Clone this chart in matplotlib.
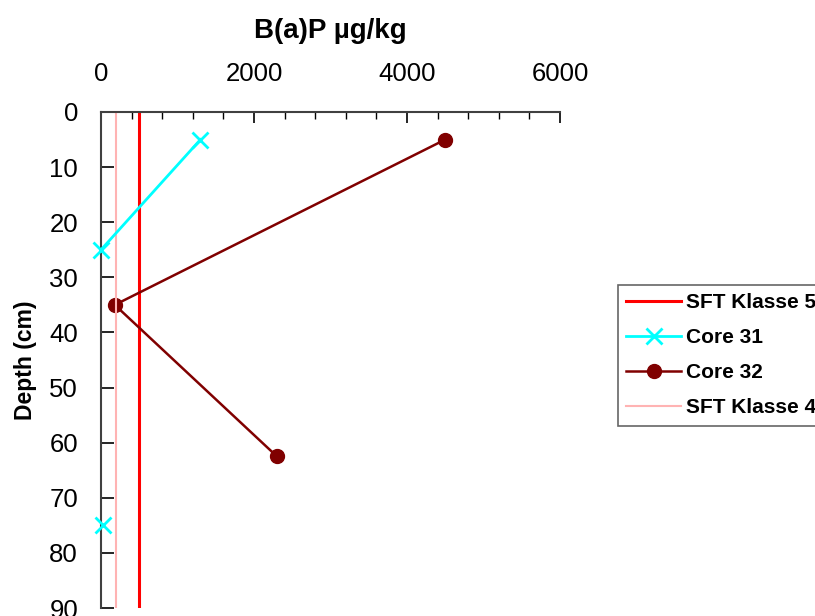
import matplotlib.pyplot as plt
import numpy as np

plt.rcParams['font.family'] = ['Liberation Sans', 'DejaVu Sans']

# B(a)P concentration (ug/kg) versus depth (cm)
core31_bap = [1300, 0, np.nan, 20]
core31_depth = [5, 25, 50, 75]
core32_bap = [4500, 180, 2300]
core32_depth = [5, 35, 62.5]

sft_klasse5 = 500
sft_klasse4 = 200
depth_range = [0, 90]

xticks = [0, 2000, 4000, 6000]
yticks = list(range(0, 100, 10))

fig = plt.figure(figsize=(8.15, 6.16), dpi=100)
ax = fig.add_axes([101/815, 1-608/616, (560-101)/815, (608-112)/616])

l5, = ax.plot([sft_klasse5, sft_klasse5], depth_range, color='#ff0000', lw=2.2, label='SFT Klasse 5')
c31, = ax.plot(core31_bap, core31_depth, color='#00ffff', lw=2, marker='x', ms=11, mew=2,
               clip_on=False, zorder=4, label='Core 31')
c32, = ax.plot(core32_bap, core32_depth, color='#800000', lw=1.8, marker='o', ms=10, label='Core 32')
l4, = ax.plot([sft_klasse4, sft_klasse4], depth_range, color='#ffb3b3', lw=1.5, label='SFT Klasse 4')

ax.set_xlim(0, 6000)
ax.set_ylim(90, 0)
ax.xaxis.tick_top()
ax.xaxis.set_label_position('top')
ax.set_xticks(xticks)
ax.set_xticks(np.arange(0, 6001, 400), minor=True)
ax.set_yticks(yticks)
ax.tick_params(axis='x', which='major', direction='in', length=8, width=1.2, labelsize=18.5, pad=19)
ax.tick_params(axis='x', which='minor', direction='in', length=5, width=1)
ax.tick_params(axis='y', direction='in', length=9, width=1.2, labelsize=18.5, pad=16.5)

for s in ['right', 'bottom']:
    ax.spines[s].set_visible(False)
for s in ['left', 'top']:
    ax.spines[s].set_color('#404040')
    ax.spines[s].set_linewidth(1.5)

ax.set_xlabel('B(a)P µg/kg', fontsize=20, fontweight='bold', labelpad=17)
ax.set_ylabel('Depth (cm)', fontsize=16.5, fontweight='bold', labelpad=9)

leg = fig.legend(handles=[l5, c31, c32, l4], loc='upper left',
                 bbox_to_anchor=(618/815, 1-285/616), frameon=True, fancybox=False,
                 prop={'weight': 'bold', 'size': 15}, handlelength=2.64,
                 handletextpad=0.24, labelspacing=0.77, borderpad=0.4, borderaxespad=0)
leg.get_frame().set_edgecolor('#404040')
leg.get_frame().set_linewidth(1.2)

fig.savefig('out.png', dpi=100)
